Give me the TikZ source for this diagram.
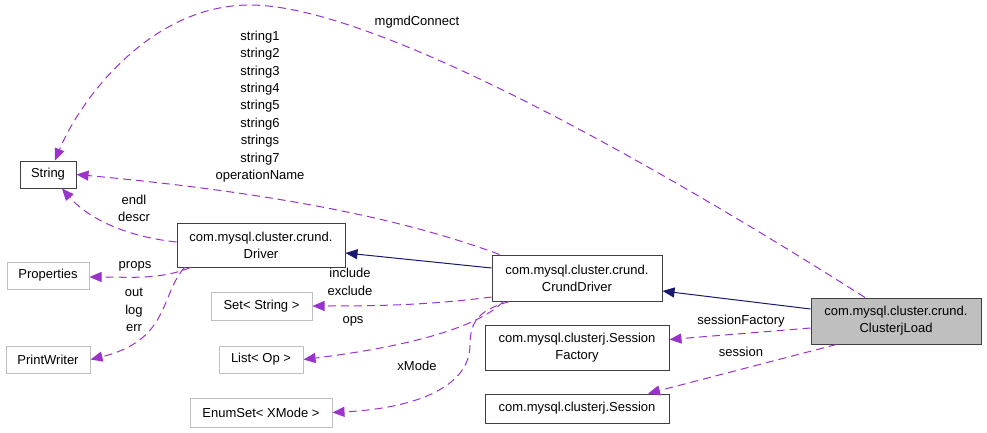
\documentclass[tikz,border=0pt]{standalone}
\usepackage{fontspec}
\setmainfont{Liberation Sans}
\usetikzlibrary{arrows.meta,calc}
\definecolor{depcol}{HTML}{9A32CD}
\definecolor{inhcol}{HTML}{191970}
\definecolor{boxgray}{HTML}{BFBFBF}
\definecolor{boxline}{HTML}{404040}
\tikzset{
  box/.style={draw=boxline, line width=1pt, inner sep=0pt, align=center, font=\fontsize{13}{17}\selectfont},
  extbox/.style={box, draw=boxgray},
  mainbox/.style={box, fill=boxgray},
  dep/.style={draw=depcol, line width=1pt, dash pattern=on 8pt off 5pt, -{Triangle[length=12pt,width=10pt,fill=depcol]}},
  inh/.style={draw=inhcol, line width=1pt, -{Triangle[length=12pt,width=10pt,fill=inhcol]}},
  lab/.style={inner sep=0pt, align=center, font=\fontsize{13}{17.4}\selectfont}
}
\begin{document}
\begin{tikzpicture}[x=1pt,y=-1pt]
\useasboundingbox (0,0) rectangle (987,433);
% nodes
\node[box, minimum width=56pt, minimum height=27pt] (str) at (48,174.5) {String};
\node[box, minimum width=168pt, minimum height=44pt] (drv) at (261,245) {com.mysql.cluster.crund.\\Driver};
\node[extbox, minimum width=82pt, minimum height=27pt] (prop) at (48,275.5) {Properties};
\node[extbox, minimum width=84pt, minimum height=27pt] (pw) at (48,359.5) {PrintWriter};
\node[extbox, minimum width=101pt, minimum height=28pt] (set) at (261.5,306) {Set< String >};
\node[extbox, minimum width=84pt, minimum height=27pt] (list) at (261,359.5) {List< Op >};
\node[extbox, minimum width=142pt, minimum height=29pt] (enum) at (261,412.5) {EnumSet< XMode >};
\node[box, minimum width=170pt, minimum height=46pt] (cd) at (577,278) {com.mysql.cluster.crund.\\CrundDriver};
\node[box, minimum width=184pt, minimum height=45pt] (sf) at (577,347.5) {com.mysql.clusterj.Session\\Factory};
\node[box, minimum width=184pt, minimum height=29pt] (ses) at (577,408.5) {com.mysql.clusterj.Session};
\node[mainbox, minimum width=170pt, minimum height=46pt] (cl) at (896,321) {com.mysql.cluster.crund.\\ClusterjLoad};
% inheritance
\draw[inh] ($(cd.west)+(0,-10)$) -- ($(drv.east)+(0,8)$);
\draw[inh] ($(cl.west)+(0,-12)$) -- ($(cd.east)+(0,13)$);
% dependencies
\draw[dep] ($(cl.north)+(-31,0)$) .. controls (680,180) and (380,5) .. (250,5)
  .. controls (150,5) and (80,100) .. ($(str.north)+(7,0)$);
\draw[dep] ($(cd.north west)+(8,0)$) .. controls (420,225) and (300,195) .. (str.east);
\draw[dep] ($(drv.west)+(0,-3)$) .. controls (120,236) and (85,215) .. ($(str.south)+(14,0)$);
\draw[dep] ($(drv.south west)+(14,0)$) .. controls (160,280) and (130,277) .. ($(prop.east)+(0,1.5)$);
\draw[dep] ($(drv.south west)+(8,0)$) .. controls (160,295) and (170,340) .. (pw.east);
\draw[dep] ($(cd.west)+(0,19)$) .. controls (430,305) and (380,306) .. (set.east);
\draw[dep] ($(cd.south west)+(12,0)$) .. controls (480,325) and (420,345) .. (list.east);
\draw[dep] ($(cd.south west)+(18,0)$) .. controls (480,310) and (470,320) .. (470,345)
  .. controls (470,385) and (420,408) .. (enum.east);
\draw[dep] ($(cl.west)+(0,7)$) -- ($(sf.east)+(0,-8)$);
\draw[dep] ($(cl.south west)+(26,0)$) -- ($(ses.north)+(71,0)$);
% labels
\node[lab] (lmgmd) at (417,22) {mgmdConnect};
\node[lab] (lstr) at (260,106.5) {string1\\string2\\string3\\string4\\string5\\string6\\strings\\string7\\operationName};
\node[lab] (lendl) at (134,208.5) {endl\\descr};
\node[lab] (lprops) at (135,266) {props};
\node[lab] (lout) at (134,310) {out\\log\\err};
\node[lab] (linc) at (350,282) {include\\exclude};
\node[lab] (lops) at (353,321) {ops};
\node[lab] (lxm) at (417,366) {xMode};
\node[lab] (lsf) at (741,321) {sessionFactory};
\node[lab] (lses) at (741,352) {session};
\end{tikzpicture}
\end{document}
